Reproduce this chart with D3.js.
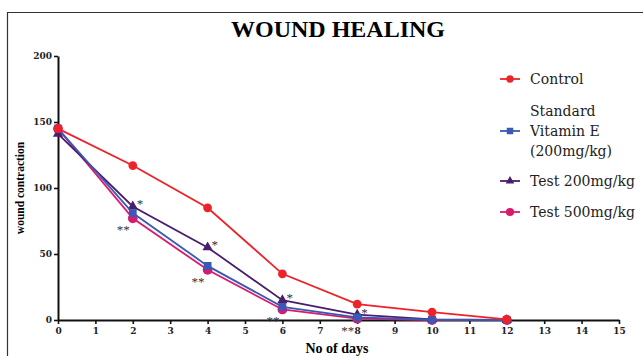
<!DOCTYPE html>
<html>
<head>
<meta charset="utf-8">
<script src="https://cdn.jsdelivr.net/npm/d3@7"></script>
<style>
  body { margin: 0; background: #fff; }
</style>
</head>
<body>
<script>
var days = [0, 2, 4, 6, 8, 10, 12];
var control = [145, 117, 85, 35, 12, 6, 0.5];
var vitaminE = [145, 81, 41, 10, 2, 0.3, 0];
var test200 = [141, 86, 55, 15, 4, 0.5, 0];
var test500 = [145, 77, 38, 8, 1, 0, 0];
var xTicks = d3.range(0, 16);
var yTicks = [0, 50, 100, 150, 200];
// days that carry significance marks
var starDays = [2, 4, 6, 8];

var serif = "'Liberation Serif', serif";
var w = 643, h = 356;
var svg = d3.select("body").append("svg")
    .attr("width", w)
    .attr("height", h);

// frame
svg.append("path")
    .attr("d", "M7.5," + h + "V12.5H" + w)
    .attr("fill", "none")
    .attr("stroke", "#333")
    .attr("stroke-width", 1.2);

svg.append("text")
    .attr("x", 338)
    .attr("y", 37)
    .attr("text-anchor", "middle")
    .style("font-family", serif)
    .style("font-size", "24px")
    .style("font-weight", "bold")
    .text("WOUND HEALING");

var x = d3.scaleLinear().domain([0, 15]).range([58, 619]);
var y = d3.scaleLinear().domain([0, 200]).range([320, 56]);

var xAxis = svg.append("g")
    .attr("transform", "translate(0," + y(0) + ")")
    .call(d3.axisBottom(x).tickValues(xTicks).tickSize(4).tickPadding(4).tickSizeOuter(0));
var yAxis = svg.append("g")
    .attr("transform", "translate(" + x(0) + ",0)")
    .call(d3.axisLeft(y).tickValues(yTicks).tickSize(4).tickPadding(2).tickSizeOuter(0));

[xAxis, yAxis].forEach(function (g) {
    g.select(".domain").attr("stroke", "#111").attr("stroke-width", 2);
    g.selectAll(".tick line").attr("stroke", "#111").attr("stroke-width", 1.6);
    g.selectAll(".tick text")
        .style("font-family", "'DejaVu Serif', serif")
        .style("font-size", "9px")
        .style("font-weight", "bold")
        .attr("fill", "#222");
});

svg.append("text")
    .attr("x", 337)
    .attr("y", 353)
    .attr("text-anchor", "middle")
    .style("font-family", serif)
    .style("font-size", "14px")
    .style("font-weight", "bold")
    .text("No of days");

svg.append("text")
    .attr("transform", "translate(24," + y(100) + ") rotate(-90)")
    .attr("text-anchor", "middle")
    .style("font-family", serif)
    .style("font-size", "11.5px")
    .style("font-weight", "bold")
    .text("wound contraction");

var series = [
    { name: ["Control"], values: control, color: "#ee2229", shape: d3.symbolCircle, size: 60, ly: 79 },
    { name: ["Standard", "Vitamin E", "(200mg/kg)"], values: vitaminE, color: "#3a58b4", shape: d3.symbolSquare, size: 60, ly: 131 },
    { name: ["Test 200mg/kg"], values: test200, color: "#4a1d6e", shape: d3.symbolTriangle, size: 45, ly: 181 },
    { name: ["Test 500mg/kg"], values: test500, color: "#d81b6e", shape: d3.symbolCircle, size: 75, ly: 212 }
];

var line = d3.line()
    .x(function (d) { return x(d[0]); })
    .y(function (d) { return y(d[1]); });

// draw in reverse so control sits on top like the original
series.slice().reverse().forEach(function (s) {
    var pts = days.map(function (d, i) { return [d, s.values[i]]; });
    svg.append("path")
        .datum(pts)
        .attr("d", line)
        .attr("fill", "none")
        .attr("stroke", s.color)
        .attr("stroke-width", 1.8);
    svg.selectAll(null)
        .data(pts)
        .enter()
        .append("path")
        .attr("d", d3.symbol().type(s.shape).size(s.size))
        .attr("transform", function (d) { return "translate(" + x(d[0]) + "," + y(d[1]) + ")"; })
        .attr("fill", s.color);
});

// significance marks
svg.selectAll(".s1")
    .data(starDays)
    .enter()
    .append("text")
    .attr("x", function (d) { return x(d) + 4; })
    .attr("y", function (d) { return y(test200[days.indexOf(d)]) + 2; })
    .style("font-family", serif)
    .style("font-size", "13px")
    .attr("fill", "#333")
    .text("*");
svg.selectAll(".s2")
    .data(starDays)
    .enter()
    .append("text")
    .attr("x", function (d) { return x(d) - 3; })
    .attr("y", function (d) { return y(test500[days.indexOf(d)]) + 16; })
    .attr("text-anchor", "end")
    .style("font-family", serif)
    .style("font-size", "13px")
    .attr("fill", "#333")
    .text("**");

// legend
var leg = svg.append("g");
series.forEach(function (s) {
    leg.append("line")
        .attr("x1", 500).attr("x2", 520)
        .attr("y1", s.ly).attr("y2", s.ly)
        .attr("stroke", s.color)
        .attr("stroke-width", 1.8);
    leg.append("path")
        .attr("d", d3.symbol().type(s.shape).size(s.size * 0.7))
        .attr("transform", "translate(510," + s.ly + ")")
        .attr("fill", s.color);
    var n = s.name.length;
    s.name.forEach(function (t, i) {
        leg.append("text")
            .attr("x", 530)
            .attr("y", s.ly + 5 + (i - (n - 1) / 2) * 20)
            .style("font-family", "'DejaVu Serif', serif")
            .style("font-size", "14px")
            .attr("fill", "#222")
            .text(t);
    });
});
</script>
</body>
</html>
